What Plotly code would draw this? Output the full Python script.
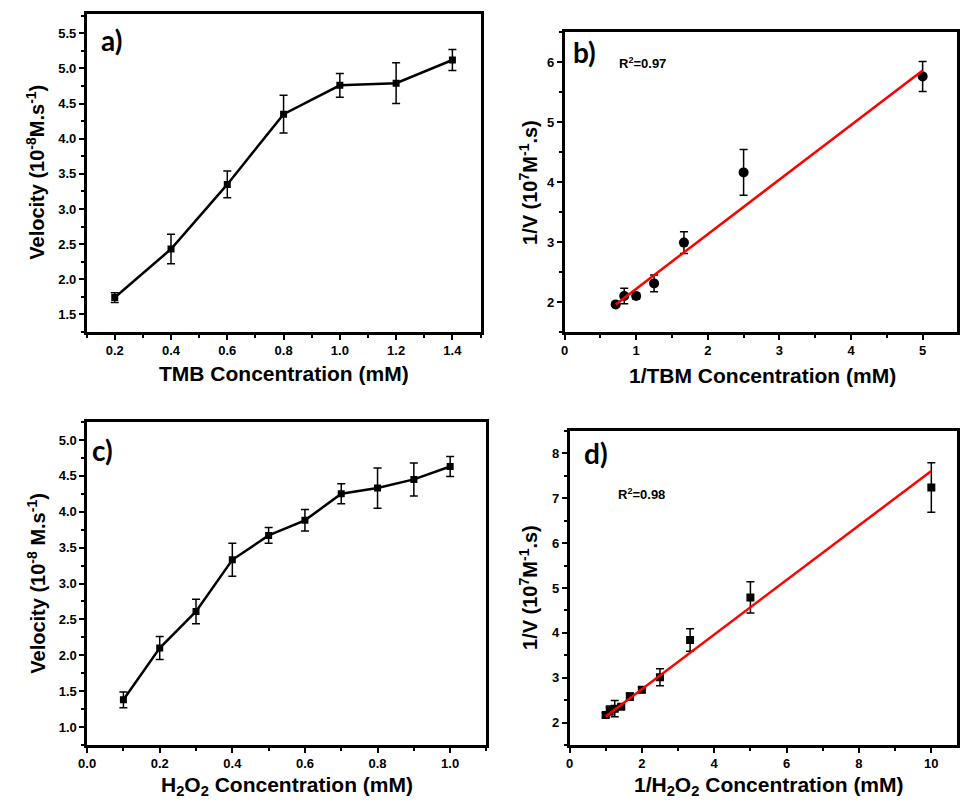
import plotly.graph_objects as go

W, H = 960, 803

# ---- data ----
tmb_conc = [0.2, 0.4, 0.6, 0.8, 1.0, 1.2, 1.4]
tmb_vel = [1.74, 2.43, 3.35, 4.35, 4.76, 4.79, 5.12]
tmb_err = [0.07, 0.21, 0.19, 0.27, 0.17, 0.29, 0.15]

inv_tmb = [0.714, 0.833, 1.0, 1.25, 1.667, 2.5, 5.0]
inv_v_tmb = [1.96, 2.10, 2.10, 2.31, 2.99, 4.16, 5.76]
inv_v_tmb_err = [0.03, 0.13, 0.05, 0.14, 0.18, 0.38, 0.25]
fit_b = {"slope": 0.91, "intercept": 1.31, "x": [0.714, 5.0]}

h2o2_conc = [0.1, 0.2, 0.3, 0.4, 0.5, 0.6, 0.7, 0.8, 0.9, 1.0]
h2o2_vel = [1.38, 2.10, 2.61, 3.33, 3.67, 3.88, 4.25, 4.33, 4.45, 4.63]
h2o2_err = [0.11, 0.16, 0.17, 0.23, 0.11, 0.15, 0.14, 0.28, 0.23, 0.14]

inv_h2o2 = [1.0, 1.111, 1.25, 1.429, 1.667, 2.0, 2.5, 3.333, 5.0, 10.0]
inv_v_h2o2 = [2.17, 2.27, 2.31, 2.35, 2.58, 2.73, 3.01, 3.84, 4.79, 7.24]
inv_v_h2o2_err = [0.05, 0.10, 0.18, 0.05, 0.08, 0.06, 0.19, 0.25, 0.35, 0.55]
fit_d = {"slope": 0.608, "intercept": 1.53, "x": [1.0, 10.0]}


def px(x):
    return x / W


def py(y):
    return 1 - y / H


fig = go.Figure()

BL = "black"
eb = dict(type="data", thickness=1.5, width=4, color=BL)

fig.add_trace(go.Scatter(x=tmb_conc, y=tmb_vel, mode="lines+markers",
                         line=dict(color=BL, width=2.5),
                         marker=dict(symbol="square", size=7, color=BL),
                         error_y=dict(array=tmb_err, **eb),
                         xaxis="x", yaxis="y", showlegend=False))

fig.add_trace(go.Scatter(x=inv_tmb, y=inv_v_tmb, mode="markers",
                         marker=dict(symbol="circle", size=10, color=BL),
                         error_y=dict(array=inv_v_tmb_err, **eb),
                         xaxis="x2", yaxis="y2", showlegend=False))
fig.add_trace(go.Scatter(x=fit_b["x"], y=[fit_b["slope"] * v + fit_b["intercept"] for v in fit_b["x"]],
                         mode="lines", line=dict(color="#ff0000", width=2.5),
                         xaxis="x2", yaxis="y2", showlegend=False))

fig.add_trace(go.Scatter(x=h2o2_conc, y=h2o2_vel, mode="lines+markers",
                         line=dict(color=BL, width=2.5),
                         marker=dict(symbol="square", size=7, color=BL),
                         error_y=dict(array=h2o2_err, **eb),
                         xaxis="x3", yaxis="y3", showlegend=False))

fig.add_trace(go.Scatter(x=inv_h2o2, y=inv_v_h2o2, mode="markers",
                         marker=dict(symbol="square", size=8, color=BL),
                         error_y=dict(array=inv_v_h2o2_err, **eb),
                         xaxis="x4", yaxis="y4", showlegend=False))
fig.add_trace(go.Scatter(x=fit_d["x"], y=[fit_d["slope"] * v + fit_d["intercept"] for v in fit_d["x"]],
                         mode="lines", line=dict(color="#ff0000", width=2.5),
                         xaxis="x4", yaxis="y4", showlegend=False))

tickfont = dict(family="Liberation Sans", size=13, color=BL, weight="bold")


def axis(domain, rng, dtick, minor, fmt, anchor):
    return dict(domain=domain, range=rng, dtick=dtick, tick0=0, tickformat=fmt,
                showline=True, linewidth=2.5, linecolor=BL, mirror=True,
                ticks="outside", ticklen=5, tickwidth=2, tickcolor=BL,
                minor=dict(ticks="outside", ticklen=3, tickwidth=1.5, dtick=minor, tick0=0, tickcolor=BL, showgrid=False),
                showgrid=False, zeroline=False, tickfont=tickfont, anchor=anchor)


fig.update_layout(
    width=W, height=H, margin=dict(l=0, r=0, t=0, b=0),
    paper_bgcolor="white", plot_bgcolor="white",
    xaxis=axis([px(78.5), px(477)], [0.1, 1.5], 0.2, 0.1, ".1f", "y"),
    yaxis=axis([py(332), py(14)], [1.25, 5.775], 0.5, 0.25, ".1f", "x"),
    xaxis2=axis([px(562), px(959)], [0, 5.48], 1, 0.5, "d", "y2"),
    yaxis2=axis([py(332), py(32)], [1.5, 6.5], 1, 0.5, "d", "x2"),
    xaxis3=axis([px(79), px(483)], [0, 1.1], 0.2, 0.1, ".1f", "y3"),
    yaxis3=axis([py(745), py(422)], [0.75, 5.25], 0.5, 0.25, ".1f", "x3"),
    xaxis4=axis([px(567), px(959)], [0, 10.71], 2, 1, "d", "y4"),
    yaxis4=axis([py(745), py(431)], [1.5, 8.5], 1, 0.5, "d", "x4"),
)

xtitle_font = dict(family="Liberation Sans", size=21, color=BL, weight="bold")
ytitle_font = dict(family="Liberation Sans", size=20, color=BL, weight="bold")
label_font = dict(family="Lato", size=28, color=BL, weight="bold")
r2_font = dict(family="Liberation Sans", size=13, color=BL, weight="bold")

annots = [
    # x-axis titles
    ("TMB Concentration (mM)", 278, 373, 0, xtitle_font),
    ("1/TBM Concentration (mM)", 762, 375, 0, xtitle_font),
    ("H<sub>2</sub>O<sub>2</sub> Concentration (mM)", 281, 786, 0, xtitle_font),
    ("1/H<sub>2</sub>O<sub>2</sub> Concentration (mM)", 769, 786, 0, xtitle_font),
    # y-axis titles
    ("Velocity (10<sup>-8</sup>M.s<sup>-1</sup>)", 27, 172, -90, ytitle_font),
    ("1/V (10<sup>7</sup>M<sup>-1</sup>.s)", 525, 182, -90, ytitle_font),
    ("Velocity (10<sup>-8</sup> M.s<sup>-1</sup>)", 27, 583, -90, ytitle_font),
    ("1/V (10<sup>7</sup>M<sup>-1</sup>.s)", 525, 587, -90, ytitle_font),
    # panel labels
    ("a)", 104, 40, 0, label_font),
    ("b)", 582, 52, 0, label_font),
    ("c)", 95, 450, 0, label_font),
    ("d)", 594, 453, 0, label_font),
    # R2
    ("R<sup>2</sup>=0.97", 641, 63, 0, r2_font),
    ("R<sup>2</sup>=0.98", 640, 494, 0, r2_font),
]
for text, x, y, ang, f in annots:
    fig.add_annotation(text=text, x=px(x), y=py(y), xref="paper", yref="paper",
                       xanchor="center", yanchor="middle", showarrow=False,
                       textangle=ang, font=f)

fig.write_html("out.html")
